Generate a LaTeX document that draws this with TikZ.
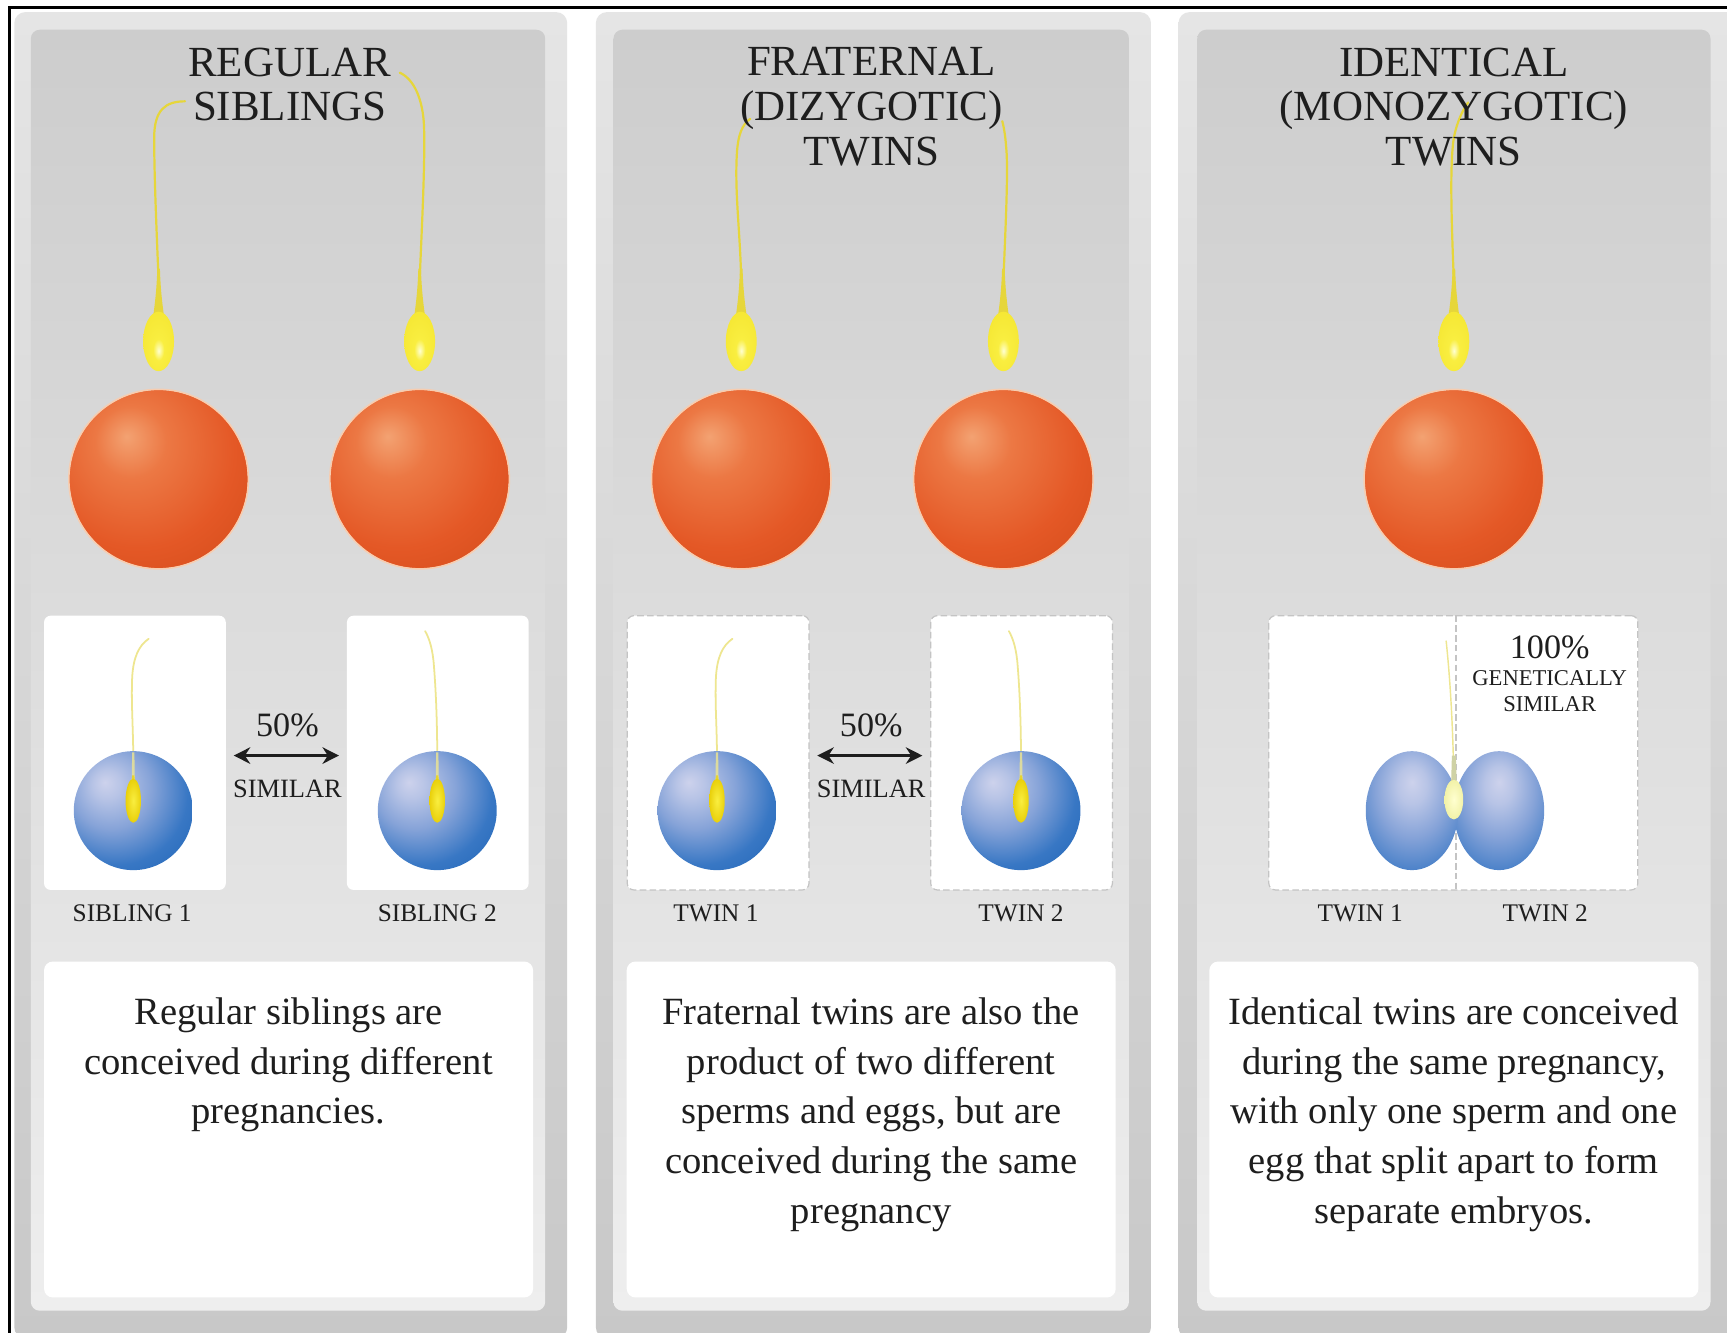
\documentclass[tikz,border=0pt]{standalone}
\usepackage{fontspec}
\setmainfont{Liberation Serif}
\usetikzlibrary{arrows.meta}

% palette
\definecolor{txt}{HTML}{1E1E1E}
\definecolor{frametop}{HTML}{E5E5E5}
\definecolor{framebot}{HTML}{C8C8C8}
\definecolor{paneltop}{HTML}{CDCDCD}
\definecolor{panelmid}{HTML}{E5E5E5}
\definecolor{panelbot}{HTML}{EEEEEE}
\definecolor{egghi}{HTML}{F3A272}
\definecolor{eggmid}{HTML}{EC7844}
\definecolor{eggmain}{HTML}{E45826}
\definecolor{eggedge}{HTML}{CC4716}
\definecolor{eggrim}{HTML}{F7CDB0}
\definecolor{bluehi}{HTML}{CDD2EC}
\definecolor{bluemid}{HTML}{86A3D8}
\definecolor{bluemain}{HTML}{3877C4}
\definecolor{blueedge}{HTML}{1F64B6}
\definecolor{headhi}{HTML}{FFFFD0}
\definecolor{headmid}{HTML}{F9EE40}
\definecolor{headedge}{HTML}{E6CA00}
\definecolor{tailc}{HTML}{E6D63A}
\definecolor{paletail}{HTML}{EEE690}
\definecolor{twinhead}{HTML}{F2F2A8}
\definecolor{dashc}{HTML}{C4C4C4}

% shadings
\pgfdeclareradialshading{eggshade}{\pgfpoint{-9bp}{12bp}}{color(0bp)=(egghi); color(10bp)=(eggmid); color(27bp)=(eggmain); color(48bp)=(eggedge); color(75bp)=(eggedge)}
\pgfdeclareradialshading{blueshade}{\pgfpoint{-12bp}{12bp}}{color(0bp)=(bluehi); color(6bp)=(bluehi!70!bluemid); color(17bp)=(bluemid); color(30bp)=(bluemain); color(44bp)=(blueedge); color(75bp)=(blueedge)}
\pgfdeclareradialshading{lobeshade}{\pgfpoint{0bp}{12bp}}{color(0bp)=(bluehi); color(8bp)=(bluehi!70!bluemid); color(20bp)=(bluemid); color(36bp)=(bluemain); color(52bp)=(blueedge); color(75bp)=(blueedge)}
\pgfdeclareradialshading{headshade}{\pgfpoint{0bp}{-8bp}}{color(0bp)=(headhi); color(9bp)=(headmid); color(32bp)=(headmid!80!headedge); color(50bp)=(headedge); color(65bp)=(headedge)}
\pgfdeclareradialshading{smallhead}{\pgfpoint{0bp}{0bp}}{color(0bp)=(headmid); color(30bp)=(headedge); color(50bp)=(headedge!85!black); color(65bp)=(headedge!85!black)}
\pgfdeclareradialshading{twinheadshade}{\pgfpoint{0bp}{0bp}}{color(0bp)=(headhi); color(25bp)=(twinhead); color(50bp)=(twinhead!80!tailc); color(65bp)=(twinhead!80!tailc)}

% type sizes
\newcommand\ttlfont{\fontsize{39}{40.5}\selectfont}
\newcommand\bodyfont{\fontsize{35}{45}\selectfont}
\newcommand\lblfont{\fontsize{23}{26}\selectfont}
\newcommand\pctfont{\fontsize{31}{34}\selectfont}
\newcommand\simfont{\fontsize{24}{26}\selectfont}
\newcommand\genfont{\fontsize{20.5}{24}\selectfont}

% large sperm: head with tapering neck, centred at (#1,#2)
\newcommand\spermhead[2]{%
  \begin{scope}[shift={(#1,#2)}]
    \fill[tailc] (-6.5,-12) .. controls (-3.5,-32) and (-1.8,-46) .. (-1.2,-66)
      -- (1.2,-66) .. controls (1.8,-46) and (3.5,-32) .. (6.5,-12) -- cycle;
    \shade[shading=headshade] (0,0) ellipse [x radius=14, y radius=27];
  \end{scope}}
% egg
\newcommand\egg[1]{%
  \shade[shading=eggshade] (#1) circle [radius=81];
  \draw[eggrim, line width=1.4pt] (#1) circle [radius=81.5];}
% fertilised egg with small sperm inside
\newcommand\zygote[1]{%
  \begin{scope}[shift={(#1)}]
    \shade[shading=blueshade] (0,0) circle [radius=54];
    \fill[paletail, opacity=0.8] (-1,-53) -- (1,-53) -- (1.4,-28) -- (-1.4,-28) -- cycle;
    \fill[tailc!85!headedge] (-2.8,-10) -- (-1,-32) -- (1,-32) -- (2.8,-10) -- cycle;
    \shade[shading=smallhead] (0,-9) ellipse [x radius=7, y radius=20];
  \end{scope}}

\tikzset{
  ttl/.style={font=\ttlfont, text=txt, align=center, anchor=north, inner sep=0pt},
  body/.style={font=\bodyfont, text=txt, align=center, anchor=north, inner sep=0pt},
  lbl/.style={font=\lblfont, text=txt, anchor=base, inner sep=0pt},
  pct/.style={font=\pctfont, text=txt, anchor=base, inner sep=0pt},
  sim/.style={font=\simfont, text=txt, anchor=base, inner sep=0pt},
  gen/.style={font=\genfont, text=txt, anchor=base, inner sep=0pt},
  plainbox/.style={fill=white, rounded corners=6pt, inner sep=0pt,
    minimum width=165pt, minimum height=249pt},
  dashbox/.style={plainbox, draw=dashc, line width=1.1pt, dash pattern=on 6pt off 3pt},
  textbox/.style={fill=white, rounded corners=8pt, inner sep=0pt,
    minimum width=444pt, minimum height=305pt},
  link/.style={line width=3pt, draw=txt, <->, >={Stealth[length=15pt,width=15pt]},
    shorten <=7pt, shorten >=7pt},
  bigtail/.style={draw=tailc, line width=2pt, line cap=round},
  smalltail/.style={draw=paletail, line width=1.6pt, line cap=round},
  framebox/.style={top color=frametop, bottom color=framebot, rounded corners=10pt},
  panelbox/.style={top color=paneltop, middle color=panelmid, bottom color=panelbot, rounded corners=8pt},
}

\begin{document}
\begin{tikzpicture}[x=1pt, y=-1pt]
\useasboundingbox (0,0) rectangle (1568,1209.4);
\fill[white] (0,0) rectangle (1568,1209.4);

% outer page rule
\draw[black, line width=2.6pt] (9,1215) -- (9,7) -- (1575,7);

% three column panels
\shade[framebox] (13,11) rectangle (515,1215);
\shade[panelbox] (28,27) rectangle (495,1190);
\shade[framebox] (541,11) rectangle (1045,1215);
\shade[panelbox] (557,27) rectangle (1025,1190);
\shade[framebox] (1070,11) rectangle (1578,1215);
\shade[panelbox] (1087,27) rectangle (1553,1190);

% sperm tails
\draw[bigtail] (144,255) .. controls (142,205) and (140,160) .. (140,125) .. controls (140,100) and (150,92) .. (168,92);
\draw[bigtail] (381,255) .. controls (383,205) and (386,150) .. (385,115) .. controls (384,90) and (376,72) .. (363,66);
\draw[bigtail] (673,255) .. controls (672,210) and (667,175) .. (669,140) .. controls (670,122) and (674,113) .. (681,108);
\draw[bigtail] (911,255) .. controls (913,205) and (915,165) .. (914,140) .. controls (913,125) and (912,118) .. (910,110);
\draw[bigtail] (1320,255) .. controls (1318,205) and (1316,150) .. (1320,125) .. controls (1323,110) and (1328,100) .. (1333,93);

% titles
\node[ttl] (t1) at (263,43) {REGULAR\\SIBLINGS};
\node[ttl] (t2) at (791,43) {FRATERNAL\\(DIZYGOTIC)\\TWINS};
\node[ttl] (t3) at (1320,43) {IDENTICAL\\(MONOZYGOTIC)\\TWINS};

% sperm heads
\spermhead{144}{310}
\spermhead{381}{310}
\spermhead{673}{310}
\spermhead{911}{310}
\spermhead{1320}{310}

% eggs
\egg{144,435}
\egg{381,435}
\egg{673,435}
\egg{911,435}
\egg{1320,435}

% result boxes
\node[plainbox] (s1) at (122.5,683.5) {};
\node[plainbox] (s2) at (397.5,683.5) {};
\node[dashbox] (f1) at (652,683.5) {};
\node[dashbox] (f2) at (927.5,683.5) {};
\node[dashbox, minimum width=335pt] (m) at (1319.5,683.5) {};
\draw[dashc, line width=1.1pt, dash pattern=on 6pt off 3pt] ([xshift=2.5pt]m.north) -- ([xshift=2.5pt]m.south);

% small tails
\draw[smalltail] (121,690) .. controls (121,660) and (119,640) .. (120,615) .. controls (121,597) and (126,586) .. (135,580);
\draw[smalltail] (397,690) .. controls (397,660) and (396,630) .. (394,605) .. controls (393,590) and (390,580) .. (386,573);
\draw[smalltail] (651,690) .. controls (651,660) and (649,640) .. (650,615) .. controls (651,597) and (656,586) .. (665,580);
\draw[smalltail] (927,690) .. controls (927,660) and (926,630) .. (924,605) .. controls (923,590) and (920,580) .. (916,573);

% fertilised eggs
\zygote{121,736}
\zygote{397,736}
\zygote{651,736}
\zygote{927,736}

% splitting zygote
\draw[smalltail, line width=1.3pt] (1320,706) .. controls (1319,660) and (1317,620) .. (1313,582);
\shade[shading=lobeshade] (1361,736) ellipse [x radius=41, y radius=54];
\shade[shading=lobeshade] (1282,736) ellipse [x radius=42, y radius=54];
\fill[paletail!70!bluemid] (1318.2,686) -- (1321.8,686) -- (1322.5,712) -- (1317.5,712) -- cycle;
\shade[shading=twinheadshade] (1320,726) ellipse [x radius=8.5, y radius=18];

% similarity arrows
\draw[link] ([yshift=-2.5pt]s1.east) -- ([yshift=-2.5pt]s2.west);
\draw[link] ([yshift=-2.5pt]f1.east) -- ([yshift=-2.5pt]f2.west);
\node[pct] (p1) at (261,669) {50\%};
\node[sim] (q1) at (261,724) {SIMILAR};
\node[pct] (p2) at (791,669) {50\%};
\node[sim] (q2) at (791,724) {SIMILAR};
\node[pct] (p3) at (1407,598) {100\%};
\node[gen] (g3) at (1407,622) {GENETICALLY};
\node[gen] (q3) at (1407,646) {SIMILAR};

% captions under boxes
\node[lbl] (l1) at (120,837) {SIBLING 1};
\node[lbl] (l2) at (397,837) {SIBLING 2};
\node[lbl] (l3) at (650,837) {TWIN 1};
\node[lbl] (l4) at (927,837) {TWIN 2};
\node[lbl] (l5) at (1235,837) {TWIN 1};
\node[lbl] (l6) at (1403,837) {TWIN 2};

% explanation boxes
\node[textbox] (b1) at (262,1025.5) {};
\node[textbox] (b2) at (791,1025.5) {};
\node[textbox] (b3) at (1320,1025.5) {};
\node[body] (x1) at (262,906) {Regular siblings are\\conceived during different\\pregnancies.};
\node[body] (x2) at (791,906) {Fraternal twins are also the\\product of two different\\sperms and eggs, but are\\conceived during the same\\pregnancy};
\node[body] (x3) at (1320,906) {Identical twins are conceived\\during the same pregnancy,\\with only one sperm and one\\egg that split apart to form\\separate embryos.};
\end{tikzpicture}
\end{document}
